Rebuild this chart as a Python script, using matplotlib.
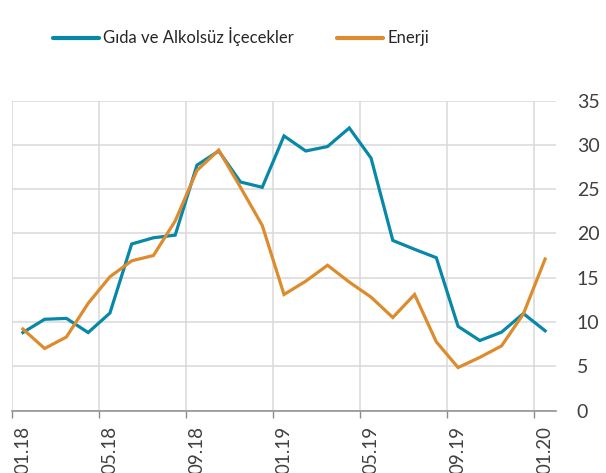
import numpy as np
import matplotlib
matplotlib.use("Agg")
import matplotlib.pyplot as plt
from matplotlib.ticker import FixedLocator, NullFormatter

plt.rcParams['font.family'] = ['Lato', 'DejaVu Sans']

months = ["01.18", "02.18", "03.18", "04.18", "05.18", "06.18", "07.18", "08.18",
          "09.18", "10.18", "11.18", "12.18", "01.19", "02.19", "03.19", "04.19",
          "05.19", "06.19", "07.19", "08.19", "09.19", "10.19", "11.19", "12.19",
          "01.20"]
gida = [8.8, 10.3, 10.4, 8.8, 11.0, 18.8, 19.5, 19.8, 27.7, 29.3, 25.8, 25.2,
        31.0, 29.3, 29.8, 31.9, 28.5, 19.2, 18.2, 17.25, 9.5, 7.9, 8.85, 10.95, 9.0]
enerji = [9.2, 7.0, 8.3, 12.1, 15.1, 16.9, 17.5, 21.4, 27.1, 29.4, 25.2, 20.9,
          13.1, 14.6, 16.4, 14.5, 12.8, 10.5, 13.1, 7.75, 4.85, 6.0, 7.3, 10.9, 17.1]

teal = '#0888a8'
orange = '#dc8c2c'
grid_c = '#d9d9d9'
axis_c = '#8c8c8c'

fig = plt.figure(figsize=(6.06, 4.73), dpi=100)
ax = fig.add_axes([12/606, 62.5/473, 544/606, 310/473])

x = np.arange(len(months))
l1, = ax.plot(x, gida, color=teal, lw=2.3, solid_joinstyle='miter', label='Gıda ve Alkolsüz İçecekler')
l2, = ax.plot(x, enerji, color=orange, lw=2.3, solid_joinstyle='miter', label='Enerji')

ax.set_xlim(-0.5, len(months) - 0.5)
ax.set_ylim(0, 35)

# category boundaries every 4 months: gridlines + tick marks
bounds = np.arange(-0.5, len(months) - 0.5, 4)
ax.xaxis.set_major_locator(FixedLocator(bounds))
ax.xaxis.set_major_formatter(NullFormatter())
ax.xaxis.set_minor_locator(FixedLocator(x[::4]))
ax.set_xticklabels([months[i] for i in x[::4]], minor=True, rotation=90, fontsize=13.5,
                   color='#404040')
ax.tick_params(axis='x', which='major', length=5, width=1, color=axis_c, direction='out')
ax.tick_params(axis='x', which='minor', length=0, pad=11)

ax.yaxis.tick_right()
ax.set_yticks(np.arange(0, 36, 5))
ax.tick_params(axis='y', length=0, pad=15, labelsize=14, labelcolor='#404040')
for lab in ax.get_yticklabels():
    lab.set_horizontalalignment('left')

ax.grid(True, axis='both', which='major', color=grid_c, lw=1.1)
ax.set_axisbelow(True)
for s in ['top', 'right', 'left']:
    ax.spines[s].set_visible(False)
ax.spines['bottom'].set_color(axis_c)
ax.spines['bottom'].set_linewidth(1.1)

leg = fig.legend(handles=[l1, l2], loc='center left', bbox_to_anchor=(53/606, 1 - 37/473),
                 ncol=2, frameon=False, fontsize=12, handlelength=2.75, handletextpad=0.25,
                 columnspacing=2.6, borderaxespad=0, borderpad=0)
for h in leg.get_lines():
    h.set_linewidth(3)
    h.set_solid_capstyle('round')
for t in leg.get_texts():
    t.set_color('#262626')

fig.savefig('out.png', dpi=100)
